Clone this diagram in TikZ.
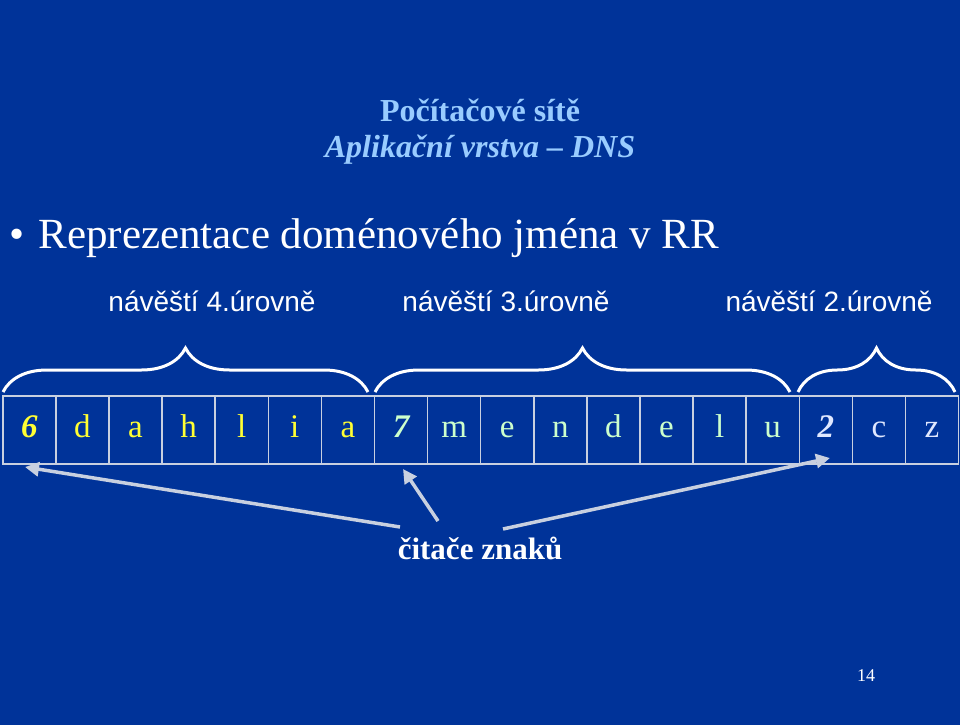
\documentclass[tikz,border=0pt]{standalone}
\usepackage{fontspec}
\setmainfont{Liberation Serif}
\newfontfamily\arialf{Liberation Sans}
\usetikzlibrary{decorations.pathreplacing,arrows.meta}
\definecolor{bg}{HTML}{003399}
\definecolor{ttl}{HTML}{99CCFF}
\definecolor{yel}{HTML}{FFFF33}
\definecolor{grn}{HTML}{CCFFCC}
\definecolor{lbl}{HTML}{E0E8FF}
\definecolor{edge}{HTML}{C8D0E0}
\begin{document}
\begin{tikzpicture}[x=1pt,y=-1pt,
  cell/.style={draw=edge,line width=1.5pt,minimum width=53.1pt,minimum height=68pt,inner sep=0pt,anchor=north west,font=\fontsize{33}{33}\selectfont,execute at begin node=\vphantom{Ahg}},
  lvl/.style={font=\arialf\fontsize{28}{28}\selectfont,text=white},
  brc/.style={draw=white,line width=3pt,decorate,decoration={brace,amplitude=44pt,raise=0pt}},
  ptr/.style={draw=edge,line width=3.5pt,-{Triangle[length=14pt,width=14pt]}}]
\fill[bg] (0,0) rectangle (960,725);
\node[text=ttl,font=\bfseries\fontsize{32}{32}\selectfont] (t1) at (480,110) {Počítačové sítě};
\node[text=ttl,font=\bfseries\itshape\fontsize{32}{32}\selectfont] (t2) at (480,150) {Aplikační vrstva -- DNS};
\node[text=white,font=\fontsize{43}{43}\selectfont,anchor=west] (b) at (6,238) {•\hspace{14pt}Reprezentace doménového jména v RR};
\node[lvl] (l4) at (212,301) {návěští 4.úrovně};
\node[lvl] (l3) at (506,301) {návěští 3.úrovně};
\node[lvl] (l2) at (829,301) {návěští 2.úrovně};
\foreach \t/\c [count=\i from 0] in {{\bfseries\itshape 6}/yel,d/yel,a/yel,h/yel,l/yel,i/yel,a/yel,{\bfseries\itshape 7}/grn,m/grn,e/grn,n/grn,d/grn,e/grn,l/grn,u/grn,{\bfseries\itshape 2}/lbl,c/lbl,z/lbl}
  \node[cell,text=\c] (c\i) at ({2+53.1*\i},395) {\t};
\draw[brc] (3,392) -- (368,392);
\draw[brc] (375,392) -- (790,392);
\draw[brc] (798,392) -- (955,392);
\node[text=white,font=\bfseries\fontsize{31}{31}\selectfont] (rd) at (480,548) {čitače znaků};
\coordinate (s1) at (400,527);
\coordinate (s2) at (438,521);
\coordinate (s3) at (503,529);
\draw[ptr] (s1) -- (25,467);
\draw[ptr] (s2) -- (403,469);
\draw[ptr] (s3) -- (830,458);
\node[text=white,font=\fontsize{18}{18}\selectfont] (pg) at (866,676) {14};
\end{tikzpicture}
\end{document}
